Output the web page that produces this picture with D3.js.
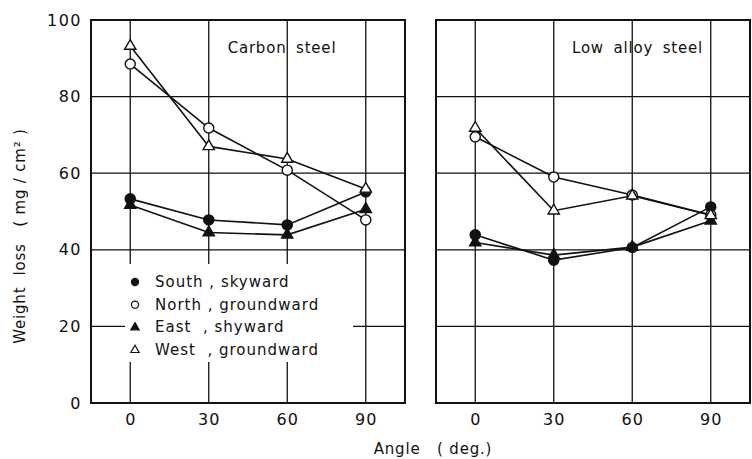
<!DOCTYPE html>
<html>
<head>
<meta charset="utf-8">
<script src="https://cdn.jsdelivr.net/npm/d3@7"></script>
<style>
body { margin:0; background:#fff; }
text { font-family: "DejaVu Sans", sans-serif; fill:#111; }
</style>
</head>
<body>
<svg id="chart"></svg>
<script>
// angles (deg.)
var angles = [0, 30, 60, 90]
var xTicks = [0, 30, 60, 90]
var yTicks = [0, 20, 40, 60, 80, 100]
var panelNames = ["Carbon steel", "Low alloy steel"]
var seriesNames = ["South , skyward", "North , groundward", "East  , shyward", "West  , groundward"]
var seriesSymbols = ["circle", "circle", "triangle", "triangle"]
var seriesFilled = [true, false, true, false]

// weight loss (mg/cm2) per series, carbon steel
var carbonSouth = [53.3, 47.8, 46.5, 55.1]
var carbonNorth = [88.5, 71.8, 60.8, 47.8]
var carbonEast = [51.7, 44.5, 43.9, 50.6]
var carbonWest = [93.2, 67.0, 63.7, 55.9]
// low alloy steel
var alloySouth = [43.9, 37.3, 40.6, 51.2]
var alloyNorth = [69.5, 59.0, 54.3, 49.1]
var alloyEast = [41.9, 38.6, 40.7, 47.6]
var alloyWest = [71.8, 50.2, 54.1, 49.0]

var panelData = [
    [carbonSouth, carbonNorth, carbonEast, carbonWest],
    [alloySouth, alloyNorth, alloyEast, alloyWest]
]

var screen = {width: 752, height: 459}
var margins = {top: 20, bottom: 56}
var panelLefts = [91, 436]
var panelWidth = 314
var graphHeight = screen.height - margins.top - margins.bottom

var svg = d3.select("#chart")
    .attr("width", screen.width)
    .attr("height", screen.height)

var yScale = d3.scaleLinear()
    .domain([0, 100])
    .range([margins.top + graphHeight, margins.top])

var drawPanel = function(p)
{
    var left = panelLefts[p]
    var xScale = d3.scaleLinear()
        .domain([-15, 105])
        .range([left, left + panelWidth])

    var g = svg.append("g")

    // grid
    g.selectAll(".vgrid")
        .data(xTicks)
        .enter()
        .append("line")
        .attr("x1", function(d) { return xScale(d) })
        .attr("x2", function(d) { return xScale(d) })
        .attr("y1", yScale(100))
        .attr("y2", yScale(0))
        .attr("stroke", "#111")
        .attr("stroke-width", 1.3)

    g.selectAll(".hgrid")
        .data(yTicks.slice(1, 5))
        .enter()
        .append("line")
        .attr("x1", xScale(-15))
        .attr("x2", xScale(105))
        .attr("y1", function(d) { return yScale(d) })
        .attr("y2", function(d) { return yScale(d) })
        .attr("stroke", "#111")
        .attr("stroke-width", 1.2)

    // frame
    g.append("rect")
        .attr("x", xScale(-15))
        .attr("y", yScale(100))
        .attr("width", xScale(105) - xScale(-15))
        .attr("height", yScale(0) - yScale(100))
        .attr("fill", "none")
        .attr("stroke", "#111")
        .attr("stroke-width", 2)

    // x tick labels
    var xAxis = d3.axisBottom(xScale).tickValues(xTicks).tickSize(0).tickPadding(11)
    var ax = g.append("g")
        .attr("transform", "translate(0," + yScale(0) + ")")
        .call(xAxis)
    ax.select(".domain").remove()
    ax.selectAll("text")
        .style("font-family", "DejaVu Sans, sans-serif")
        .style("font-size", "16px")
        .style("letter-spacing", "1px")
        .attr("fill", "#111")

    // panel title
    g.append("text")
        .text(panelNames[p])
        .attr("x", p == 0 ? xScale(58) : xScale(62))
        .attr("y", yScale(91.5))
        .attr("text-anchor", "middle")
        .style("font-size", "15px")
        .style("letter-spacing", "0.8px")
        .style("word-spacing", "4px")

    if (p == 0) drawLegend(g, xScale)

    // series
    var line = d3.line()
        .x(function(d, i) { return xScale(angles[i]) })
        .y(function(d) { return yScale(d) })

    panelData[p].forEach(function(values, s)
    {
        g.append("path")
            .datum(values)
            .attr("d", line)
            .attr("fill", "none")
            .attr("stroke", "#111")
            .attr("stroke-width", 1.6)

        var shape = seriesSymbols[s] == "circle" ? d3.symbolCircle : d3.symbolTriangle
        g.selectAll(".pt" + s)
            .data(values)
            .enter()
            .append("path")
            .attr("d", d3.symbol().type(shape).size(seriesSymbols[s] == "circle" ? 80 : 55))
            .attr("transform", function(d, i) { return "translate(" + xScale(angles[i]) + "," + yScale(d) + ")" })
            .attr("fill", seriesFilled[s] ? "#111" : "#fff")
            .attr("stroke", "#111")
            .attr("stroke-width", 1.4)
    })
}

var drawLegend = function(g, xScale)
{
    var lg = g.append("g")
    lg.append("rect")
        .attr("x", 125)
        .attr("y", 264)
        .attr("width", 228)
        .attr("height", 98)
        .attr("fill", "#fff")

    var rows = lg.selectAll(".row")
        .data(seriesNames)
        .enter()
        .append("g")
        .attr("transform", function(d, i) { return "translate(135," + (282 + i * 22.7) + ")" })

    rows.append("path")
        .attr("d", function(d, i)
        {
            var shape = seriesSymbols[i] == "circle" ? d3.symbolCircle : d3.symbolTriangle
            return d3.symbol().type(shape).size(seriesSymbols[i] == "circle" ? 40 : 30)()
        })
        .attr("fill", function(d, i) { return seriesFilled[i] ? "#111" : "#fff" })
        .attr("stroke", "#111")
        .attr("stroke-width", 1.2)

    rows.append("text")
        .text(function(d) { return d })
        .attr("x", 20)
        .attr("y", 5)
        .style("font-size", "15px")
        .style("letter-spacing", "1px")
        .style("white-space", "pre")
}

panelNames.forEach(function(name, p) { drawPanel(p) })

// y tick labels
var yAxis = d3.axisLeft(yScale).tickValues(yTicks).tickSize(0).tickPadding(9)
var ay = svg.append("g")
    .attr("transform", "translate(" + panelLefts[0] + ",0)")
    .call(yAxis)
ay.select(".domain").remove()
ay.selectAll("text")
    .style("font-family", "DejaVu Sans, sans-serif")
    .style("font-size", "16px")
    .style("letter-spacing", "1.5px")
    .attr("fill", "#111")

// axis titles
svg.append("text")
    .text("Angle   ( deg.)")
    .attr("x", 433)
    .attr("y", 454)
    .attr("text-anchor", "middle")
    .style("font-size", "15px")
    .style("letter-spacing", "0.8px")
    .style("white-space", "pre")

svg.append("text")
    .text("Weight  loss   ( mg / cm² )")
    .attr("transform", "translate(25,236) rotate(-90)")
    .attr("text-anchor", "middle")
    .style("font-size", "15px")
    .style("letter-spacing", "0.8px")
    .style("white-space", "pre")
</script>
</body>
</html>
